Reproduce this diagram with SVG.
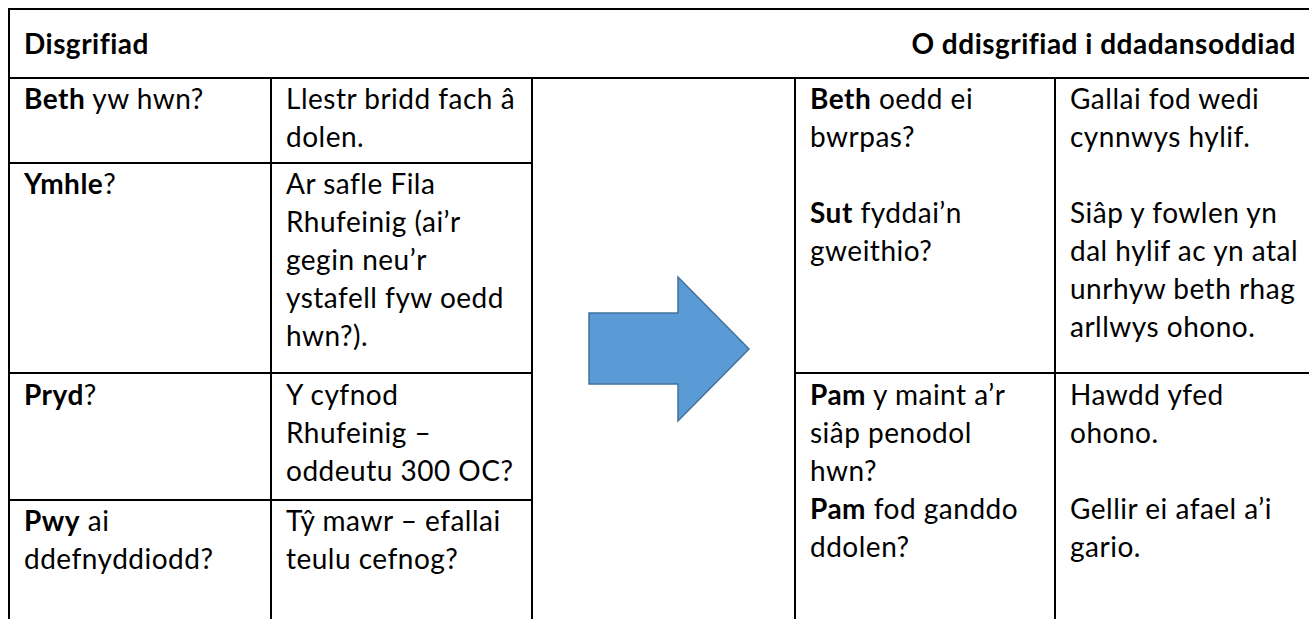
<svg xmlns="http://www.w3.org/2000/svg" width="1309" height="619" viewBox="0 0 1309 619">
<style>
.grid line{stroke:#000;stroke-width:2}
text{font-family:Lato,"Liberation Sans",sans-serif;font-size:28px;letter-spacing:0.5px;fill:#000}
.b{font-weight:bold}
.arrow{fill:#5B9BD5;stroke:#41719C;stroke-width:1.5}
</style>
<rect width="1309" height="619" fill="#fff"/>
<g id="grid" class="grid">
<line x1="9" y1="9" x2="1309" y2="9"/>
<line x1="9" y1="8" x2="9" y2="619"/>
<line x1="9" y1="78" x2="1309" y2="78"/>
<line x1="271" y1="78" x2="271" y2="619"/>
<line x1="532" y1="78" x2="532" y2="619"/>
<line x1="795" y1="78" x2="795" y2="619"/>
<line x1="1055" y1="78" x2="1055" y2="619"/>
<line x1="9" y1="163" x2="532" y2="163"/>
<line x1="9" y1="373" x2="532" y2="373"/>
<line x1="9" y1="500" x2="532" y2="500"/>
<line x1="795" y1="373" x2="1309" y2="373"/>
</g>
<g id="header">
<text x="24" y="54" class="b">Disgrifiad</text>
<text x="1296" y="54" class="b" text-anchor="end">O ddisgrifiad i ddadansoddiad</text>
</g>
<g id="row-beth">
<text x="24" y="109"><tspan class="b">Beth</tspan> yw hwn?</text>
<text x="286" y="109">Llestr bridd fach â</text>
<text x="286" y="147">dolen.</text>
</g>
<g id="row-ymhle">
<text x="24" y="194"><tspan class="b">Ymhle</tspan>?</text>
<text x="286" y="194">Ar safle Fila</text>
<text x="286" y="232">Rhufeinig (ai’r</text>
<text x="286" y="270">gegin neu’r</text>
<text x="286" y="308">ystafell fyw oedd</text>
<text x="286" y="346">hwn?).</text>
</g>
<g id="row-pryd">
<text x="24" y="405"><tspan class="b">Pryd</tspan>?</text>
<text x="286" y="405">Y cyfnod</text>
<text x="286" y="443">Rhufeinig –</text>
<text x="286" y="481">oddeutu 300 OC?</text>
</g>
<g id="row-pwy">
<text x="24" y="531"><tspan class="b">Pwy</tspan> ai</text>
<text x="24" y="569">ddefnyddiodd?</text>
<text x="286" y="531">Tŷ mawr – efallai</text>
<text x="286" y="569">teulu cefnog?</text>
</g>
<g id="row-pwrpas">
<text x="810" y="109"><tspan class="b">Beth</tspan> oedd ei</text>
<text x="810" y="147">bwrpas?</text>
<text x="810" y="223"><tspan class="b">Sut</tspan> fyddai’n</text>
<text x="810" y="261">gweithio?</text>
<text x="1070" y="109">Gallai fod wedi</text>
<text x="1070" y="147">cynnwys hylif.</text>
<text x="1070" y="223">Siâp y fowlen yn</text>
<text x="1070" y="261">dal hylif ac yn atal</text>
<text x="1070" y="299">unrhyw beth rhag</text>
<text x="1070" y="337">arllwys ohono.</text>
</g>
<g id="row-pam">
<text x="810" y="405"><tspan class="b">Pam</tspan> y maint a’r</text>
<text x="810" y="443">siâp penodol</text>
<text x="810" y="481">hwn?</text>
<text x="810" y="519"><tspan class="b">Pam</tspan> fod ganddo</text>
<text x="810" y="557">ddolen?</text>
<text x="1070" y="405">Hawdd yfed</text>
<text x="1070" y="443">ohono.</text>
<text x="1070" y="519">Gellir ei afael a’i</text>
<text x="1070" y="557">gario.</text>
</g>
<g id="connectors">
<path id="arrow" class="arrow" d="M589,313 H678 V277 L749,349 L678,421 V384 H589 Z"/>
</g>
</svg>
